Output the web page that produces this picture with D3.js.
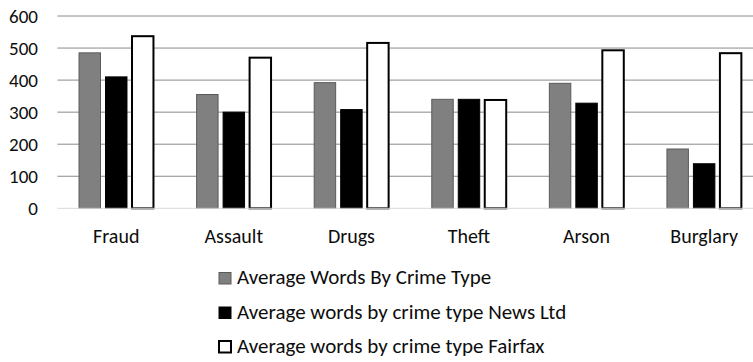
<!DOCTYPE html>
<html>
<head>
<meta charset="utf-8">
<script src="https://cdn.jsdelivr.net/npm/d3@7"></script>
<style>
  html, body { margin: 0; padding: 0; background: #fff; }
  svg { display: block; }
  text { font-family: Carlito, Calibri, Lato, "Open Sans", sans-serif; fill: #0d0d0d; }
</style>
</head>
<body>
<svg id="chart" width="753" height="362"></svg>
<script>
const categories = ["Fraud", "Assault", "Drugs", "Theft", "Arson", "Burglary"];
const seriesNames = [
  "Average Words By Crime Type",
  "Average words by crime type News Ltd",
  "Average words by crime type Fairfax"
];
const averageAll = [485, 355, 392, 340, 390, 185];
const averageNewsLtd = [410, 300, 308, 340, 328, 139];
const averageFairfax = [537, 470, 516, 338, 493, 484];
const yTicks = [0, 100, 200, 300, 400, 500, 600];

const seriesValues = [averageAll, averageNewsLtd, averageFairfax];
const seriesFill = ["#808080", "#000000", "#ffffff"];
const seriesStroke = ["#5a5a5a", "#000000", "#000000"];
const seriesStrokeW = [1, 1, 2];

const svg = d3.select("#chart");
const W = 753, H = 362;
const plotLeft = 57.4, plotRight = 763, y0px = 208.3, yTopPx = 16;

const x0 = d3.scaleBand().domain(categories).range([plotLeft, plotRight])
  .paddingInner(0.367).paddingOuter(0.184);
const x1 = d3.scaleBand().domain(d3.range(3)).range([0, x0.bandwidth()])
  .paddingInner(0.19).paddingOuter(0);
const y = d3.scaleLinear().domain([0, 600]).range([y0px, yTopPx]);

// gridlines
svg.append("g").selectAll("line").data(yTicks.filter(d => d > 0)).join("line")
  .attr("x1", plotLeft).attr("x2", W)
  .attr("y1", d => y(d)).attr("y2", d => y(d))
  .attr("stroke", "#8a8a8a").attr("stroke-width", 1);

// bars
const data = [];
categories.forEach((c, i) => {
  seriesValues.forEach((vals, s) => data.push({ c, s, v: vals[i] }));
});
svg.append("g").selectAll("rect").data(data).join("rect")
  .attr("x", d => x0(d.c) + x1(d.s))
  .attr("width", x1.bandwidth())
  .attr("y", d => y(d.v))
  .attr("height", d => y(0) - y(d.v))
  .attr("fill", d => seriesFill[d.s])
  .attr("stroke", d => seriesStroke[d.s])
  .attr("stroke-width", d => seriesStrokeW[d.s]);

// zero axis line
svg.append("line").attr("x1", plotLeft).attr("x2", W)
  .attr("y1", y(0)).attr("y2", y(0))
  .attr("stroke", "#d9d9d9").attr("stroke-width", 1);

// y tick labels via axis
const yAxis = d3.axisLeft(y).tickValues(yTicks).tickSize(0).tickPadding(0);
const gy = svg.append("g").attr("transform", "translate(38,0)").call(yAxis);
gy.select(".domain").remove();
gy.selectAll("text").attr("font-size", 19).attr("font-family", null).attr("fill", "#0d0d0d").attr("dy", "0.35em");

// x labels
const xAxis = d3.axisBottom(x0).tickSize(0).tickPadding(0);
const gx = svg.append("g").attr("transform", "translate(0,242.5)").call(xAxis);
gx.select(".domain").remove();
gx.selectAll("text").attr("font-size", 20).attr("font-family", null).attr("fill", "#0d0d0d").attr("dy", 0);

// legend
const legendY = [284, 318.5, 352.5];
const lg = svg.append("g").selectAll("g").data(seriesNames).join("g")
  .attr("transform", (d, i) => `translate(219,${legendY[i]})`);
lg.append("rect").attr("x", 0).attr("y", -11.5).attr("width", 12).attr("height", 11.5)
  .attr("fill", (d, i) => seriesFill[i]).attr("stroke", (d, i) => seriesStroke[i])
  .attr("stroke-width", (d, i) => seriesStrokeW[i]);
lg.append("text").attr("x", 18).attr("y", 0).attr("font-size", 21).text(d => d);
</script>
</body>
</html>
